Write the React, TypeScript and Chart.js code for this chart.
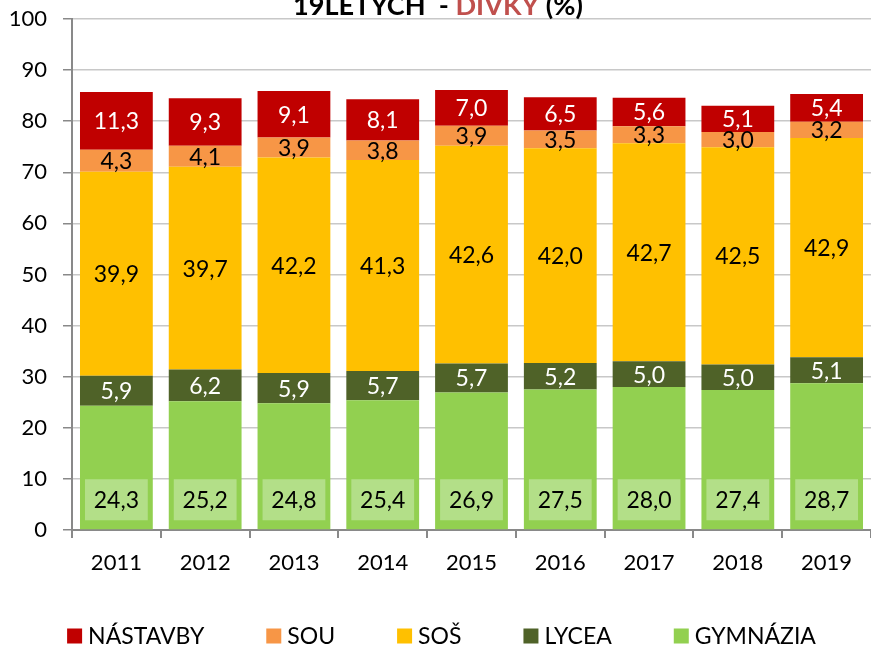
import React, { useEffect, useRef } from "react";
import { Chart, registerables } from "chart.js";

Chart.register(...registerables);

const years = ["2011", "2012", "2013", "2014", "2015", "2016", "2017", "2018", "2019"];
const gymnazia = [24.3, 25.2, 24.8, 25.4, 26.9, 27.5, 28.0, 27.4, 28.7];
const lycea = [5.9, 6.2, 5.9, 5.7, 5.7, 5.2, 5.0, 5.0, 5.1];
const sos = [39.9, 39.7, 42.2, 41.3, 42.6, 42.0, 42.7, 42.5, 42.9];
const sou = [4.3, 4.1, 3.9, 3.8, 3.9, 3.5, 3.3, 3.0, 3.2];
const nastavby = [11.3, 9.3, 9.1, 8.1, 7.0, 6.5, 5.6, 5.1, 5.4];

const seriesNames = ["GYMNÁZIA", "LYCEA", "SOŠ", "SOU", "NÁSTAVBY"];
const seriesColors = ["#92D050", "#4F6228", "#FFC000", "#F79646", "#C00000"];
const labelColors = ["#000000", "#FFFFFF", "#000000", "#000000", "#FFFFFF"];

const titleParts = [
  { text: "19LETÝCH  - ", color: "#000000" },
  { text: "DÍVKY", color: "#C0504D" },
  { text: " (%)", color: "#000000" },
];

const FONT = "Lato, 'Open Sans', sans-serif";

const segLabels = {
  id: "segLabels",
  afterDatasetsDraw(chart: any) {
    const ctx = chart.ctx;
    chart.data.datasets.forEach((ds: any, i: number) => {
      const meta = chart.getDatasetMeta(i);
      meta.data.forEach((bar: any, j: number) => {
        const v = ds.data[j] as number;
        const txt = v.toFixed(1).replace(".", ",");
        const p = bar.getProps(["x", "y", "base", "width"], true);
        ctx.save();
        ctx.font = `23px ${FONT}`;
        ctx.textAlign = "center";
        ctx.textBaseline = "middle";
        if (i === 0) {
          const bw = p.width - 10;
          const bh = 41;
          const bottom = p.base - 9;
          ctx.fillStyle = "#B3DF88";
          ctx.fillRect(p.x - bw / 2, bottom - bh, bw, bh);
          ctx.fillStyle = labelColors[i];
          ctx.fillText(txt, p.x, bottom - bh / 2 + 1);
        } else {
          ctx.fillStyle = labelColors[i];
          ctx.fillText(txt, p.x, (p.y + p.base) / 2 + 1);
        }
        ctx.restore();
      });
    });
  },
};

const titlePlugin = {
  id: "cutTitle",
  afterDraw(chart: any) {
    const ctx = chart.ctx;
    ctx.save();
    ctx.font = `bold 100px ${FONT}`;
    const full = titleParts.map((t) => t.text).join("");
    const w100 = ctx.measureText(full).width;
    const size = (290 / w100) * 100;
    ctx.font = `bold ${size}px ${FONT}`;
    ctx.textBaseline = "alphabetic";
    ctx.textAlign = "left";
    let x = 293;
    titleParts.forEach((t) => {
      ctx.fillStyle = t.color;
      ctx.fillText(t.text, x, 15);
      x += ctx.measureText(t.text).width;
    });
    ctx.restore();
  },
};

const legendPlugin = {
  id: "customLegend",
  afterDraw(chart: any) {
    const ctx = chart.ctx;
    const items = chart.data.datasets
      .map((ds: any) => ({ label: ds.label as string, color: ds.backgroundColor as string }))
      .reverse();
    const box = 15;
    const gapText = 6;
    const gapItem = 62;
    ctx.save();
    ctx.font = `23px ${FONT}`;
    const widths = items.map((it: any) => box + gapText + ctx.measureText(it.label).width);
    const total = widths.reduce((a: number, b: number) => a + b, 0) + gapItem * (items.length - 1);
    let x = 441.5 - total / 2;
    const cy = 636;
    ctx.textBaseline = "middle";
    ctx.textAlign = "left";
    items.forEach((it: any, k: number) => {
      ctx.fillStyle = it.color;
      ctx.fillRect(x, cy - box / 2, box, box);
      ctx.fillStyle = "#000000";
      ctx.fillText(it.label, x + box + gapText, cy + 1);
      x += widths[k] + gapItem;
    });
    ctx.restore();
  },
};

export default function App() {
  const ref = useRef<HTMLCanvasElement | null>(null);

  useEffect(() => {
    if (!ref.current) return;
    const data = [gymnazia, lycea, sos, sou, nastavby];
    const chart = new Chart(ref.current, {
      type: "bar",
      data: {
        labels: years,
        datasets: seriesNames.map((name, i) => ({
          label: name,
          data: data[i],
          backgroundColor: seriesColors[i],
          borderWidth: 0,
          barPercentage: 0.82,
          categoryPercentage: 1,
        })),
      },
      options: {
        animation: false,
        responsive: true,
        maintainAspectRatio: false,
        layout: { padding: { top: 0, right: 0, left: 0, bottom: 76 } },
        plugins: {
          title: { display: false },
          tooltip: { enabled: false },
          legend: { display: false },
        },
        scales: {
          x: {
            stacked: true,
            grid: {
              display: true,
              drawOnChartArea: false,
              offset: true,
              tickLength: 8,
              color: "#898989",
              lineWidth: 2,
            },
            border: { color: "#898989", width: 2 },
            ticks: { color: "#000000", font: { family: FONT, size: 22 }, padding: 12 },
            afterFit: (s: any) => {
              s.height = 41;
            },
          },
          y: {
            stacked: true,
            min: 0,
            max: 100,
            ticks: {
              stepSize: 10,
              color: "#000000",
              font: { family: FONT, size: 22 },
              padding: 16,
            },
            grid: {
              color: "#C8C8C8",
              lineWidth: 1.5,
              tickLength: 9,
              tickColor: "#898989",
            },
            border: { color: "#898989", width: 2 },
            afterFit: (s: any) => {
              s.width = 72;
              s.paddingTop = 19;
              s.paddingBottom = 0;
            },
          },
        },
      },
      plugins: [segLabels, titlePlugin, legendPlugin],
    });
    return () => chart.destroy();
  }, []);

  return (
    <div style={{ position: "absolute", left: 0, top: 0, width: 871, height: 647 }}>
      <canvas ref={ref} />
    </div>
  );
}
